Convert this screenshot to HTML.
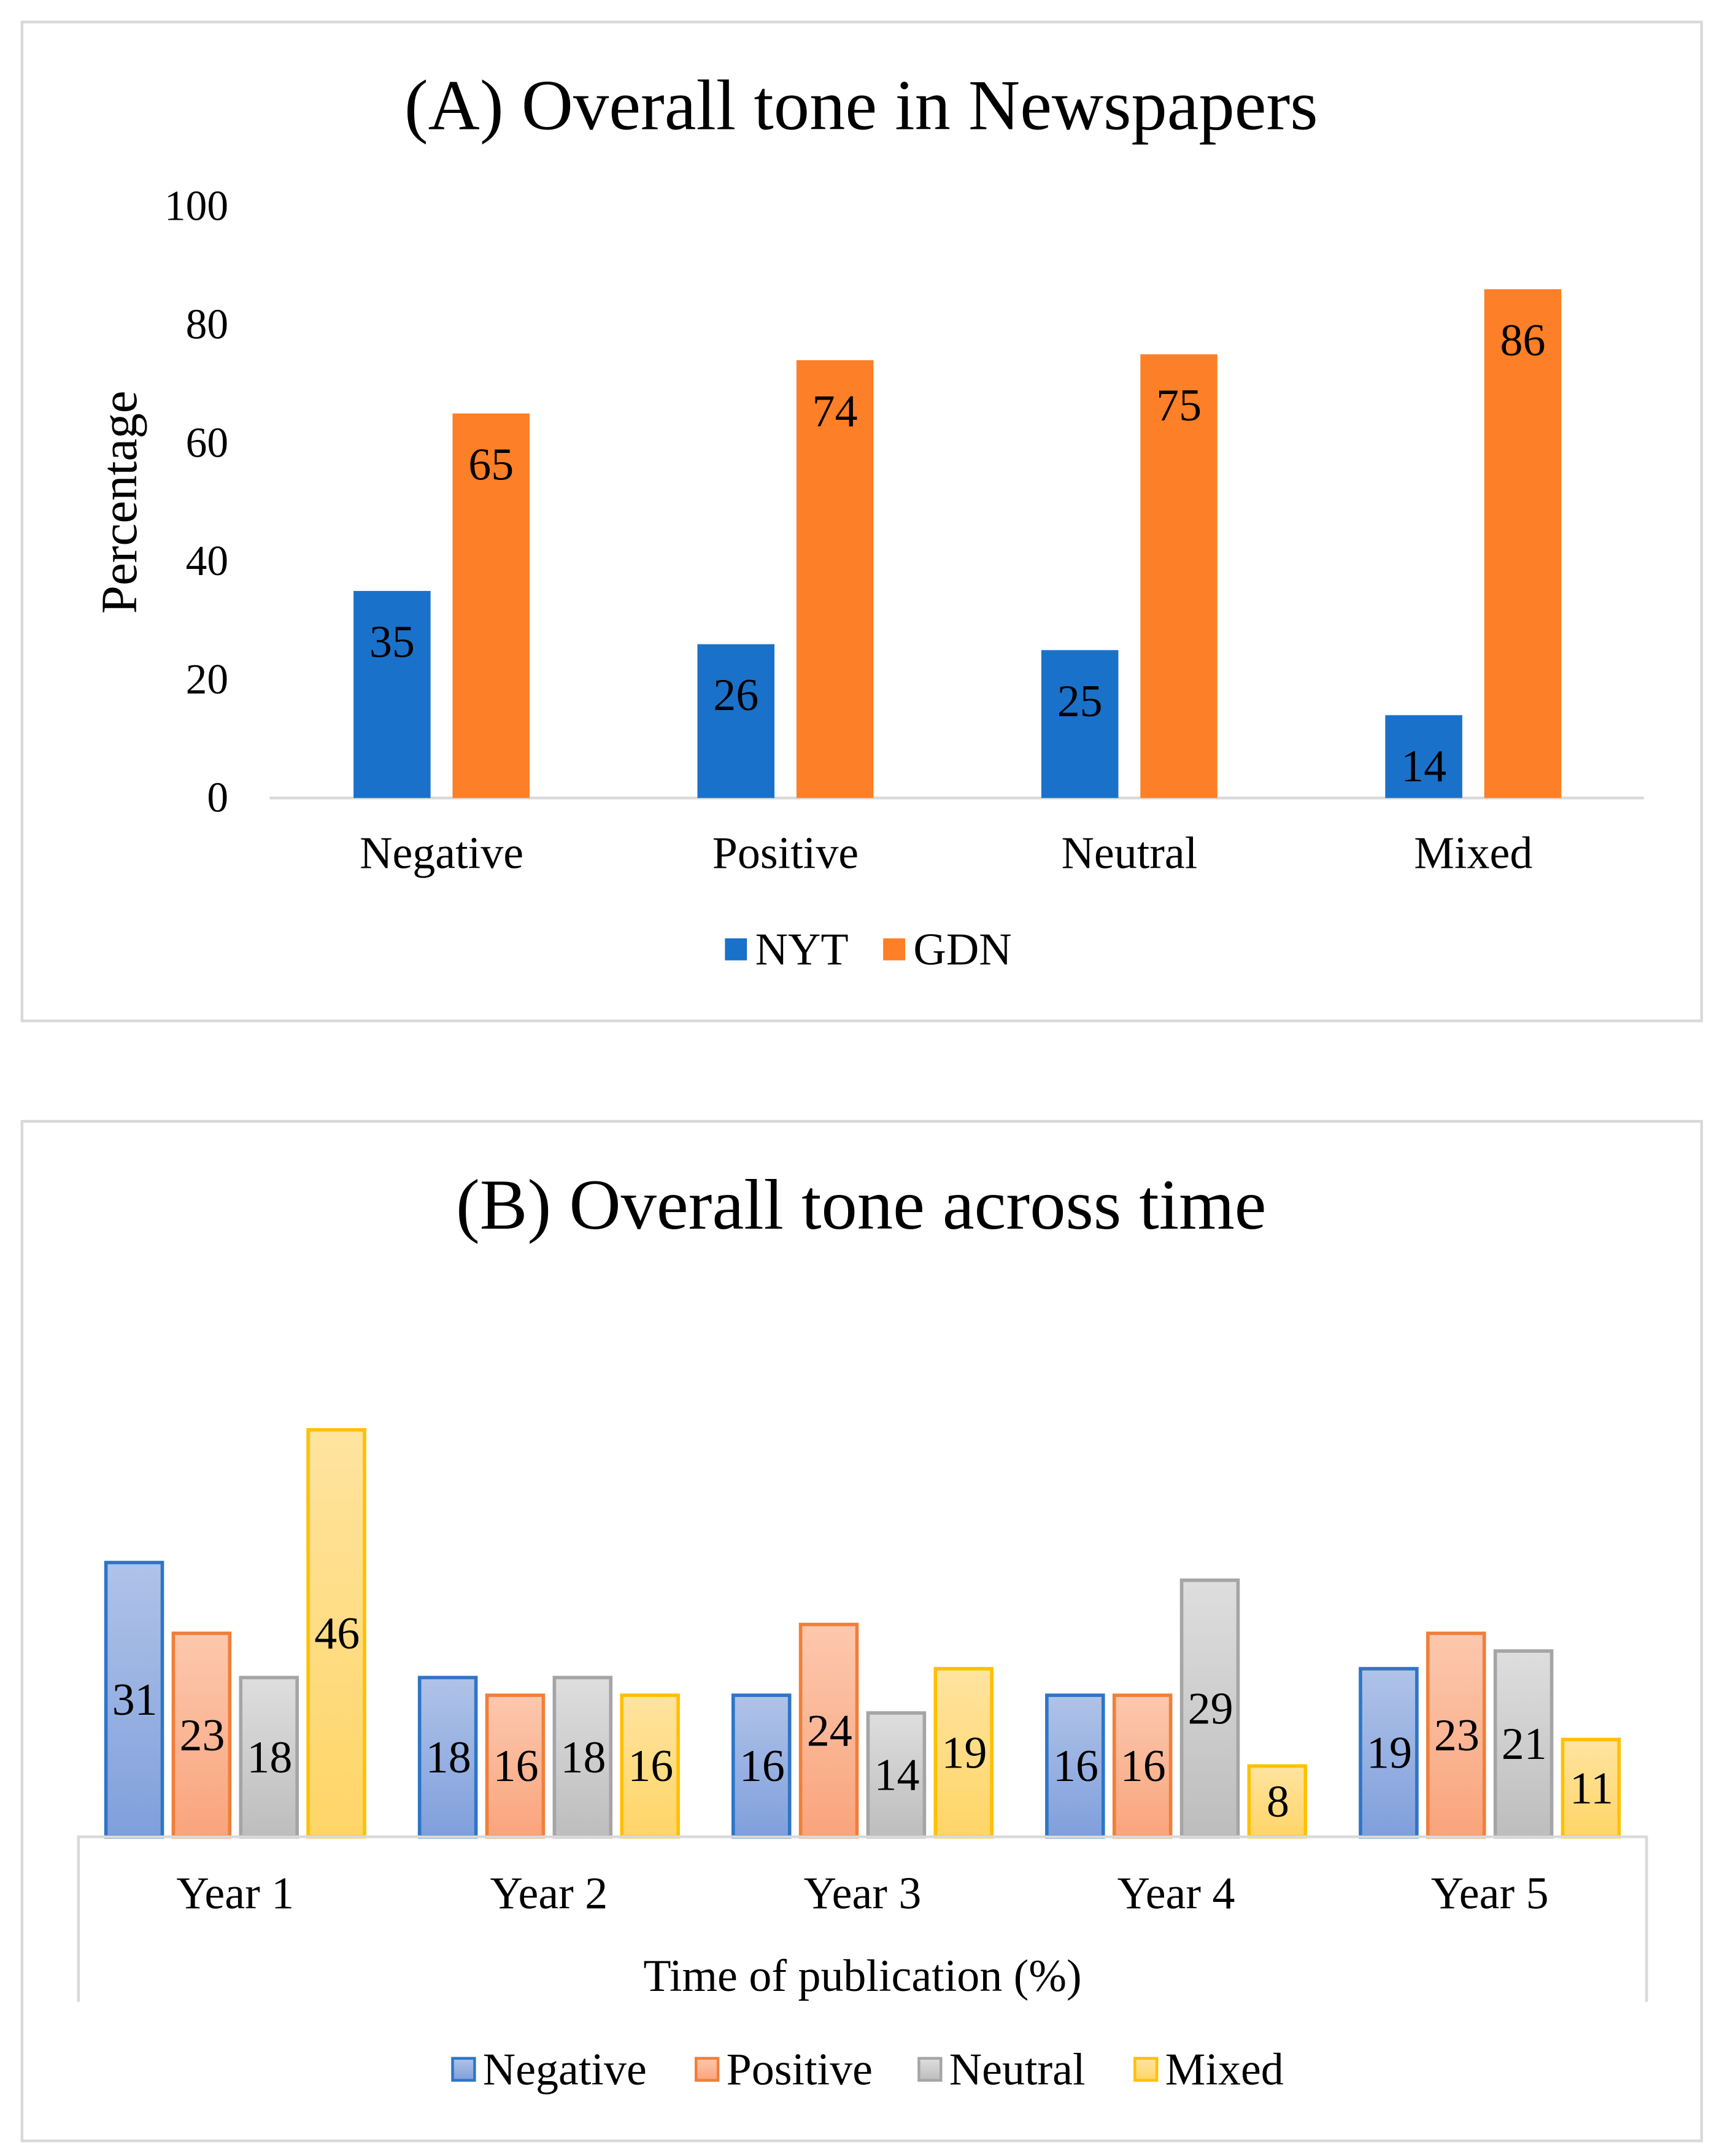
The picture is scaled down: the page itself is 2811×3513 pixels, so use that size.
<!DOCTYPE html>
<html><head><meta charset="utf-8"><style>
html,body{margin:0;padding:0;background:#fff}
svg{display:block;font-family:"Liberation Serif",serif}
</style></head><body>
<svg id="c" width="2811" height="3513" viewBox="0 0 1254 1567" preserveAspectRatio="none" xmlns="http://www.w3.org/2000/svg">
<defs>
<linearGradient id="gNeg" x1="0" y1="0" x2="0" y2="1"><stop offset="0" stop-color="#b0c3e8"/><stop offset="1" stop-color="#7f9fdc"/></linearGradient>
<linearGradient id="gPos" x1="0" y1="0" x2="0" y2="1"><stop offset="0" stop-color="#fcc8ae"/><stop offset="1" stop-color="#f9a47c"/></linearGradient>
<linearGradient id="gNeu" x1="0" y1="0" x2="0" y2="1"><stop offset="0" stop-color="#dedede"/><stop offset="1" stop-color="#bdbdbd"/></linearGradient>
<linearGradient id="gMix" x1="0" y1="0" x2="0" y2="1"><stop offset="0" stop-color="#ffe4a0"/><stop offset="1" stop-color="#ffd567"/></linearGradient>
</defs>
<rect x="16" y="16" width="1221" height="726" fill="#fff" stroke="#d9d9d9" stroke-width="2"/>
<rect x="16" y="815" width="1221" height="741" fill="#fff" stroke="#d9d9d9" stroke-width="2"/>
<text x="626" y="94" font-size="52" text-anchor="middle">(A) Overall tone in Newspapers</text>
<text x="626" y="893" font-size="52" text-anchor="middle">(B) Overall tone across time</text>
<text transform="translate(99,365) rotate(-90)" font-size="37" text-anchor="middle">Percentage</text>
<g id="a"></g><g id="b"></g>
</svg>
<script>
const aCats=["Negative","Positive","Neutral","Mixed"];
const aNYT=[35,26,25,14];
const aGDN=[65,74,75,86];
const aTicks=[0,20,40,60,80,100];
const bCats=["Year 1","Year 2","Year 3","Year 4","Year 5"];
const bNeg=[31,18,16,16,19];
const bPos=[23,16,24,16,23];
const bNeu=[18,18,14,29,21];
const bMix=[46,16,19,8,11];

const NS="http://www.w3.org/2000/svg";
function mk(p,t,at,txt){const e=document.createElementNS(NS,t);for(const k in at)e.setAttribute(k,at[k]);if(txt!==undefined)e.textContent=txt;p.appendChild(e);return e;}
const A=document.getElementById('a'),B=document.getElementById('b');
// Panel A
const ay=v=>580-v*4.3, ax0=196, agw=250;
aTicks.forEach(t=>{const e=mk(A,'text',{x:166,y:ay(t)+10,'font-size':31,'text-anchor':'end'},t);

});
const al=mk(A,'line',{x1:196,x2:1195,y1:580,y2:580,stroke:'#d9d9d9','stroke-width':2});


aCats.forEach((c,i)=>{const cx=ax0+agw*(i+0.5);
[[aNYT[i],'#1a71c9',-64],[aGDN[i],'#fd7f27',8]].forEach(([v,col,off],j)=>{
const r=mk(A,'rect',{x:cx+off,y:ay(v),width:56,height:v*4.3,fill:col});


const l=mk(A,'text',{x:cx+off+28,y:ay(v)+48,'font-size':33,'text-anchor':'middle'},v);

});
const t=mk(A,'text',{x:cx,y:631,'font-size':33,'text-anchor':'middle'},c);

});
[['NYT','#1a71c9',527],['GDN','#fd7f27',642]].forEach(([n,col,x])=>{
const g=mk(A,'g',{});


mk(g,'rect',{x:x,y:682,width:16,height:16,fill:col});mk(g,'text',{x:x+22,y:701,'font-size':33},n);});
// Panel B
const by=v=>1335-v*6.43, bx0=57, bgw=228;
const ser=[[bNeg,'url(#gNeg)','#2e75c6','negative'],[bPos,'url(#gPos)','#f07f3a','positive'],[bNeu,'url(#gNeu)','#a5a5a5','neutral'],[bMix,'url(#gMix)','#ffc000','mixed']];
bCats.forEach((c,i)=>{const x0=bx0+bgw*i+20;
ser.forEach(([arr,f,s,n],j)=>{const v=arr[i];const x=x0+j*49;
const r=mk(B,'rect',{x:x,y:by(v),width:41,height:v*6.43,fill:f,stroke:s,'stroke-width':2.5});


const l=mk(B,'text',{x:x+21,y:by(v/2)+11,'font-size':33,'text-anchor':'middle'},v);

});
const t=mk(B,'text',{x:bx0+bgw*(i+0.5),y:1387,'font-size':33,'text-anchor':'middle'},c);

});
const bl=mk(B,'path',{d:'M57,1455 V1335 H1197 V1455',fill:'none',stroke:'#d9d9d9','stroke-width':2});


const bt=mk(B,'text',{x:627,y:1447,'font-size':33,'text-anchor':'middle'},'Time of publication (%)');


[['Negative','url(#gNeg)','#2e75c6',329],['Positive','url(#gPos)','#f07f3a',506],['Neutral','url(#gNeu)','#a5a5a5',668],['Mixed','url(#gMix)','#ffc000',825]].forEach(([n,f,s,x])=>{
const g=mk(B,'g',{});


mk(g,'rect',{x:x,y:1496,width:16,height:16,fill:f,stroke:s,'stroke-width':2});mk(g,'text',{x:x+22,y:1515,'font-size':33},n);});
</script>
</body></html>
